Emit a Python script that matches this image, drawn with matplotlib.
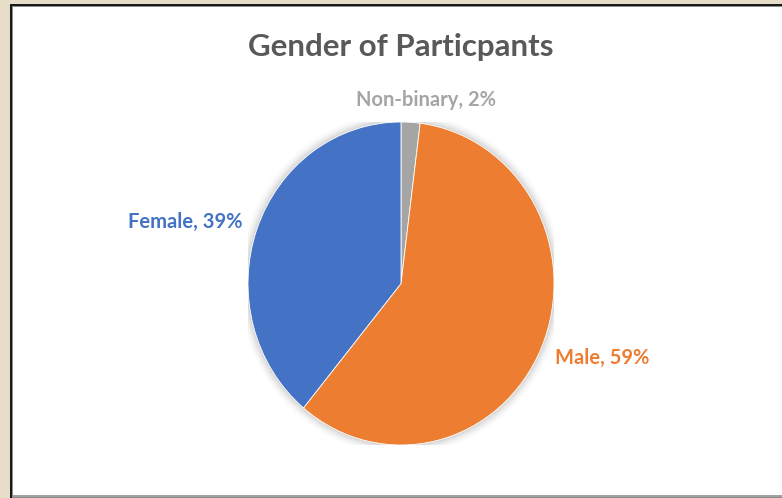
import matplotlib
matplotlib.use("Agg")
import matplotlib.pyplot as plt
from matplotlib.patches import Rectangle, Ellipse

categories = ["Non-binary", "Male", "Female"]
shares = [2, 59, 39]
colors = ["#A5A5A5", "#ED7D31", "#4472C4"]
title = "Gender of Particpants"

W, H = 782, 498
fig = plt.figure(figsize=(W / 100, H / 100), dpi=100)
fig.patch.set_facecolor("#E6DDC8")


def prect(x0, y0, x1, y1, color):
    """Filled rectangle given in pixel coordinates measured from the top-left."""
    fig.patches.append(Rectangle((x0 / W, 1 - y1 / H), (x1 - x0) / W, (y1 - y0) / H,
                                 transform=fig.transFigure, facecolor=color,
                                 edgecolor="none", zorder=-10))


# frame: dark border on top/left, gray line at bottom, white panel
prect(10, 4, W, H, "#1A1A1A")
prect(12, 6, W, H, "#8C8C8C")
prect(13, 7, W, 495, "#FFFFFF")
prect(13, 495, W, 497, "#A0A0A0")

# pie axes (slightly taller than wide)
cx, cy, rx, ry = 401, 283.5, 153, 161.5
ax = fig.add_axes([(cx - rx) / W, 1 - (cy + ry) / H, 2 * rx / W, 2 * ry / H])
ax.set_zorder(5)
ax.patch.set_visible(False)

# soft shadow around the pie
for i, a in enumerate([0.05, 0.04, 0.03, 0.02, 0.012]):
    s = 1.0 + 0.012 * (i + 1)
    ax.add_patch(Ellipse((0, 0), 2 * s, 2 * s, facecolor="#000000", alpha=a,
                         edgecolor="none", zorder=0))

wedges, _ = ax.pie(shares, colors=colors, startangle=90, counterclock=False,
                   radius=1.0, wedgeprops=dict(linewidth=0.6, edgecolor="white"))
for w in wedges:
    w.set_zorder(2)
ax.set_xlim(-1, 1)
ax.set_ylim(-1, 1)
ax.set_aspect("auto")
ax.axis("off")

font = ["Lato", "DejaVu Sans"]
fig.text(401 / W, 1 - 47 / H, title, ha="center", va="center",
         fontsize=22.5, fontweight="bold", color="#595959", family=font)

label_pos = {"Non-binary": (426, 100), "Male": (602, 358), "Female": (185, 222)}
for cat, val, col in zip(categories, shares, colors):
    x, y = label_pos[cat]
    fig.text(x / W, 1 - y / H, f"{cat}, {val}%", ha="center", va="center",
             fontsize=14.5, fontweight="bold", color=col, family=font)

fig.savefig("out.png", dpi=100, facecolor=fig.get_facecolor())
